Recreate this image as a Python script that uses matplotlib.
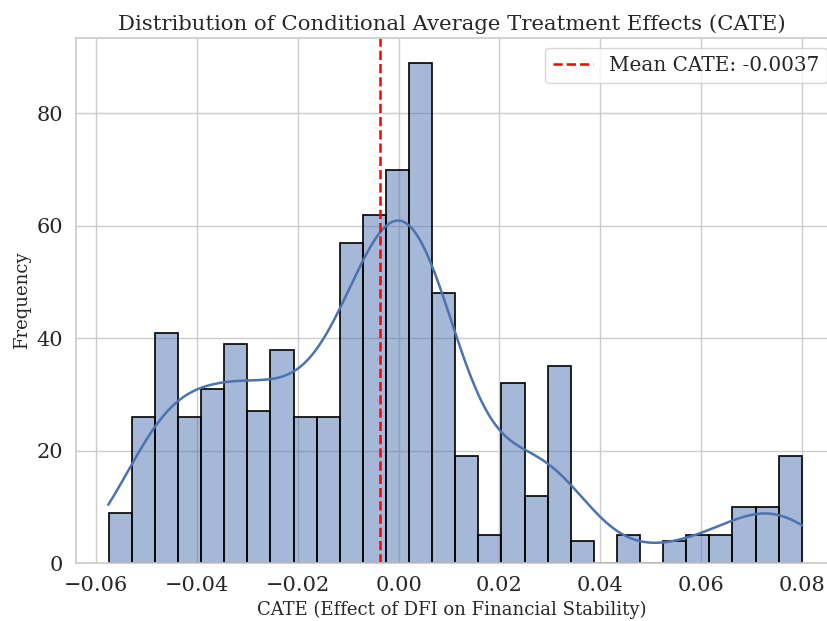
import numpy as np
import matplotlib
matplotlib.use("Agg")
import matplotlib.pyplot as plt
import seaborn as sns

# histogram: 30 bins between X_MIN and X_MAX
X_MIN = -0.0575
X_MAX = 0.0800
counts = [9, 26, 41, 26, 31, 39, 27, 38, 26, 26,
          57, 62, 70, 89, 48, 19, 5, 32, 12, 35,
          4, 0, 5, 0, 4, 5, 5, 10, 10, 19]
MEAN_CATE = -0.0037

edges = np.linspace(X_MIN, X_MAX, len(counts) + 1)
cate = np.repeat((edges[:-1] + edges[1:]) / 2, counts)

sns.set_theme(style="whitegrid")
plt.rcParams['font.family'] = ['DejaVu Serif']

fig = plt.figure(figsize=(8.28, 6.21), dpi=100)
ax = fig.add_axes([76 / 828, 0.093, 752 / 828, 0.846])

sns.histplot(x=cate, bins=len(counts), binrange=(X_MIN, X_MAX),
             kde=True, kde_kws={'cut': 0.3}, color='#4C72B0', alpha=0.5,
             edgecolor='black', linewidth=1.2, line_kws={'linewidth': 1.8}, ax=ax)
ax.axvline(MEAN_CATE, color='red', linestyle='--', linewidth=1.8,
           label=f'Mean CATE: {MEAN_CATE:.4f}')

ax.set_xlim(-0.064, 0.0852)
ax.spines['right'].set_visible(False)
ax.set_title('Distribution of Conditional Average Treatment Effects (CATE)', fontsize=15.3)
ax.set_xlabel('CATE (Effect of DFI on Financial Stability)', fontsize=13)
ax.set_ylabel('Frequency', fontsize=13)
ax.tick_params(axis='both', labelsize=15)
ax.legend(loc='upper right', fontsize=14.4, bbox_to_anchor=(1.012, 1.0))

fig.savefig('out.png', dpi=100)
